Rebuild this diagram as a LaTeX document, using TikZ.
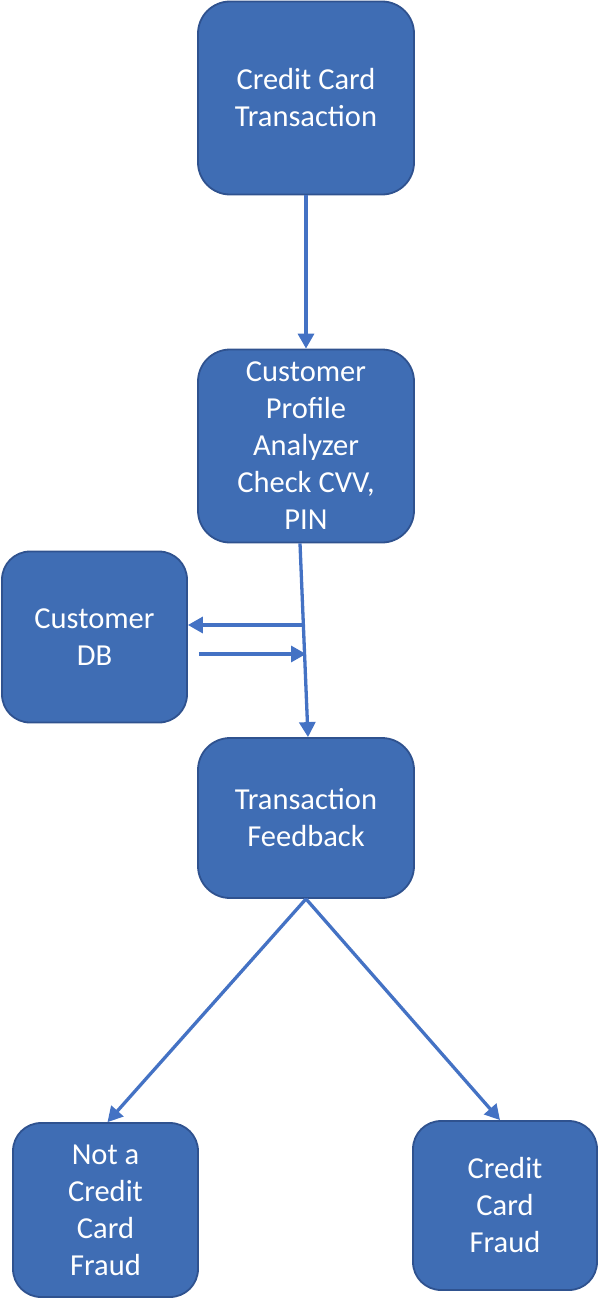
\documentclass[tikz,border=0pt]{standalone}
\usepackage{fontspec}
\setmainfont{Carlito}
\usetikzlibrary{arrows.meta}
\definecolor{boxblue}{HTML}{3F6DB4}
\definecolor{boxline}{HTML}{2F528F}
\definecolor{arrowblue}{HTML}{4472C4}
\begin{document}
\begin{tikzpicture} [x=1pt,y=-1pt,
	block/.style={draw=boxline,line width=1.8pt,fill=boxblue,rounded corners=32pt,text=white,align=center,inner sep=0pt,font=\fontsize{30.5}{37}\selectfont},
	flow/.style={draw=arrowblue,line width=3.3pt,-{Triangle[length=15pt,width=16pt]}}]
		\useasboundingbox (0,0) rectangle (598,1298);
		\node [block,minimum width=216pt,minimum height=193pt] (trans) at (306,98) {Credit Card\\Transaction};
		\node [block,minimum width=216pt,minimum height=193pt] (profile) at (306,446) {Customer\\Profile\\Analyzer\\Check CVV,\\PIN};
		\node [block,minimum width=185pt,minimum height=171pt,rounded corners=28pt] (db) at (94.5,637) {Customer\\DB};
		\node [block,minimum width=216pt,minimum height=160pt] (feedback) at (306,818) {Transaction\\Feedback};
		\node [block,minimum width=185pt,minimum height=174pt,rounded corners=28pt] (notfraud) at (105.5,1210) {Not a\\Credit\\Card\\Fraud};
		\node [block,minimum width=184pt,minimum height=169pt,rounded corners=28pt] (fraud) at (505,1205.5) {Credit\\Card\\Fraud};
		% connectors
		\coordinate (query) at (302,625);
		\coordinate (reply) at (306,654);
		\draw [flow] (trans) -- (profile);
		\draw [flow] ([xshift=-6pt]profile.south) -- ([xshift=2pt]feedback.north);
		\draw [flow] (query) -- (db.east |- query);
		\draw [flow] (db.east |- reply) ++(11,0) -- (reply);
		\draw [flow] (feedback.south) -- ([xshift=2pt]notfraud.north);
		\draw [flow] (feedback.south) -- ([xshift=-5pt]fraud.north);
\end{tikzpicture}
\end{document}
